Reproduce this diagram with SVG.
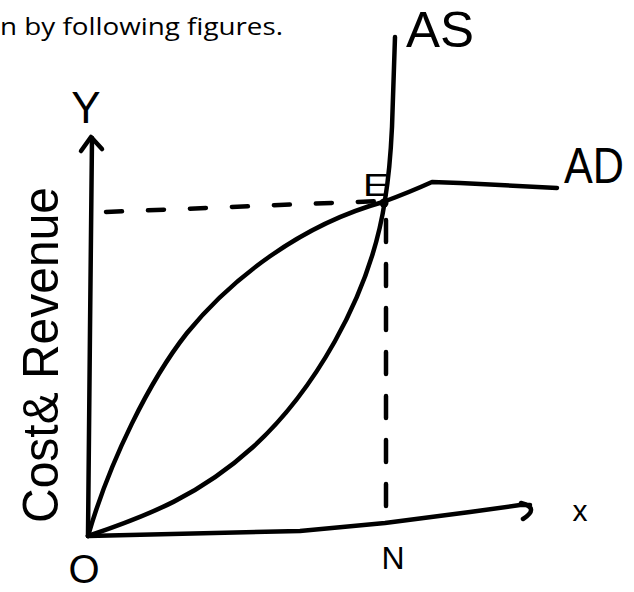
<svg xmlns="http://www.w3.org/2000/svg" width="634" height="592" viewBox="0 0 634 592">
<style>
.ln{fill:none;stroke:#000;stroke-width:4.5;stroke-linecap:round;stroke-linejoin:round}
.ds{fill:none;stroke:#000;stroke-width:4.5;stroke-linecap:round}
.hw{font-family:"Liberation Sans","DejaVu Sans",sans-serif;fill:#000}
.cap{font-family:"Open Sans","Liberation Sans",sans-serif;fill:#000;font-size:23px}
</style>
<rect width="634" height="592" fill="#fff"/>
<g id="caption"><text class="cap" x="0" y="35" textLength="283" lengthAdjust="spacingAndGlyphs">n by following figures.</text></g>
<g id="connectors">
  <path class="ln" d="M88,536 L90,330 L92,138"/>
  <path class="ln" d="M81,151 L91,137 L102,149"/>
  <path class="ln" d="M88,536 L300,531 L385,523 L470,512 L520,505 L530,505"/>
  <path class="ln" d="M521,503 Q540,508 523,519"/>
  <path class="ds" d="M106,212 L380,201" stroke-dasharray="16,26"/>
  <path class="ds" d="M386,220 L386,528" stroke-dasharray="22,22"/>
</g>
<g id="AD-curve"><path class="ln" d="M88,536 C110,460 150,380 187,333 C230,280 300,225 383,202 Q410,192 432,182 L460,183 L557,188"/></g>
<g id="AS-curve"><path class="ln" d="M88,536 C150,515 200,495 253,447 C310,395 370,300 385,200 Q390,170 392,127 L395,37"/></g>
<g id="E-point"><circle cx="384" cy="203" r="4.5" fill="#000"/><text class="hw" x="363" y="196" font-size="32" textLength="26" lengthAdjust="spacingAndGlyphs">E</text></g>
<g id="label-Y"><text class="hw" x="86" y="123" font-size="44" text-anchor="middle">Y</text></g>
<g id="label-axis"><text class="hw" transform="translate(58,523) rotate(-90)" font-size="50" textLength="336" lengthAdjust="spacingAndGlyphs">Cost&amp; Revenue</text></g>
<g id="label-AS"><text class="hw" x="406" y="47" font-size="50" textLength="68" lengthAdjust="spacingAndGlyphs">AS</text></g>
<g id="label-AD"><text class="hw" x="564" y="183" font-size="50" textLength="60" lengthAdjust="spacingAndGlyphs">AD</text></g>
<g id="label-O"><text class="hw" x="84" y="583" font-size="40" text-anchor="middle">O</text></g>
<g id="label-N"><text class="hw" x="393" y="569" font-size="32" text-anchor="middle">N</text></g>
<g id="label-x"><text class="hw" x="580" y="521" font-size="30" text-anchor="middle">x</text></g>
</svg>
